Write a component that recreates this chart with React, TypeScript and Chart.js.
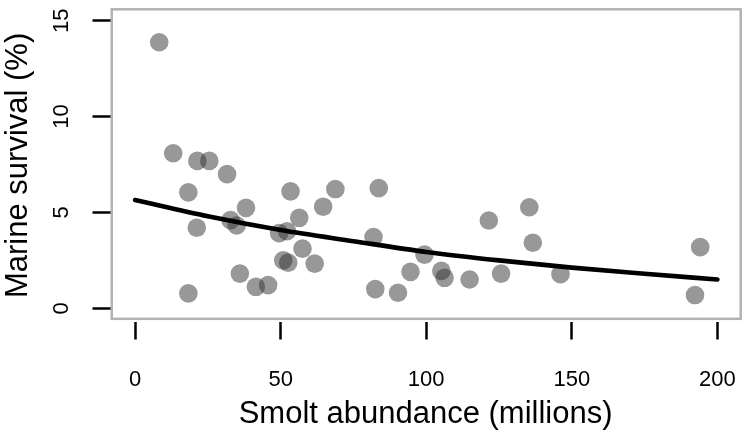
import React, { useEffect, useRef } from "react";
import { Chart, registerables } from "chart.js";

Chart.register(...registerables);

// Smolt abundance (millions) for each observed year
const abundance = [
  8.3, 13.1, 21.4, 25.5, 31.6, 18.3, 38.1, 53.4, 68.8, 64.6,
  83.7, 56.4, 32.8, 34.9, 21.2, 49.5, 52.2, 57.5, 50.9, 52.6,
  61.7, 36.0, 41.5, 45.7, 18.3, 81.9, 82.5, 121.5, 135.4, 136.6,
  99.4, 94.6, 105.2, 106.3, 114.9, 125.7, 146.1, 90.3, 194.1, 192.3,
];
// Marine survival (%) for each observed year
const survival = [
  13.88, 8.09, 7.69, 7.69, 7.0, 6.05, 5.24, 6.1, 6.22, 5.3,
  6.27, 4.72, 4.6, 4.32, 4.2, 3.92, 4.02, 3.11, 2.5, 2.38,
  2.33, 1.81, 1.12, 1.21, 0.78, 3.72, 1.0, 4.58, 5.27, 3.42,
  2.8, 1.9, 1.95, 1.59, 1.5, 1.81, 1.78, 0.81, 3.19, 0.69,
];
// Fitted curve
const fitX = [0, 25, 50, 75, 100, 125, 150, 175, 200];
const fitY = [5.65, 4.8, 4.08, 3.5, 2.94, 2.5, 2.12, 1.8, 1.5];

const xTicks = [0, 50, 100, 150, 200];
const yTicks = [0, 5, 10, 15];
const xTitle = "Smolt abundance (millions)";
const yTitle = "Marine survival (%)";
// plot region (user coordinates) as in the original box
const boxX = [-8, 208];
const boxY = [-0.55, 15.6];

const FONT = "'Liberation Sans', Arial, Helvetica, sans-serif";

const boxPlugin = {
  id: "rbox",
  beforeDatasetsDraw(chart: any) {
    const { ctx, scales } = chart;
    const x0 = scales.x.getPixelForValue(boxX[0]);
    const x1 = scales.x.getPixelForValue(boxX[1]);
    const y0 = scales.y.getPixelForValue(boxY[1]);
    const y1 = scales.y.getPixelForValue(boxY[0]);
    ctx.save();
    ctx.strokeStyle = "#b3b3b3";
    ctx.lineWidth = 2.5;
    ctx.strokeRect(x0, y0, x1 - x0, y1 - y0);
    ctx.restore();
  },
};

function zeroPad(s: any) {
  s.paddingTop = 0;
  s.paddingBottom = 0;
  s.paddingLeft = 0;
  s.paddingRight = 0;
}

export default function App() {
  const ref = useRef<HTMLCanvasElement>(null);
  useEffect(() => {
    if (!ref.current) return;
    const chart = new Chart(ref.current, {
      type: "scatter",
      data: {
        datasets: [
          {
            label: "fit",
            data: fitX.map((x, i) => ({ x, y: fitY[i] })),
            showLine: true,
            borderColor: "#000",
            borderWidth: 4.6,
            pointRadius: 0,
            cubicInterpolationMode: "monotone",
            borderCapStyle: "round",
          } as any,
          {
            label: "obs",
            data: abundance.map((x, i) => ({ x, y: survival[i] })),
            backgroundColor: "rgba(50,50,50,0.5)",
            borderWidth: 0,
            pointRadius: 9.3,
          },
        ],
      },
      options: {
        animation: false,
        responsive: true,
        maintainAspectRatio: false,
        layout: { padding: { top: 7.3, right: 8.3, left: 0, bottom: 0 } },
        plugins: { legend: { display: false }, tooltip: { enabled: false } },
        scales: {
          x: {
            type: "linear",
            min: -8.43,
            max: 208,
            afterBuildTicks: (s: any) => {
              s.ticks = xTicks.map((v) => ({ value: v }));
            },
            afterFit: (s: any) => {
              s.height = 117.5;
              zeroPad(s);
            },
            border: { display: false },
            grid: {
              drawOnChartArea: false,
              drawTicks: true,
              tickLength: 18,
              tickWidth: 2.5,
              tickColor: "#000",
            },
            ticks: {
              color: "#000",
              font: { family: FONT, size: 22 },
              padding: 27,
              maxRotation: 0,
              minRotation: 0,
            },
            title: {
              display: true,
              text: xTitle,
              color: "#000",
              font: { family: FONT, size: 31 },
              padding: { top: 0, bottom: 6 },
            },
          },
          y: {
            type: "linear",
            min: -0.69,
            max: 15.6,
            afterBuildTicks: (s: any) => {
              s.ticks = yTicks.map((v) => ({ value: v }));
            },
            afterFit: (s: any) => {
              s.width = 110.5;
              zeroPad(s);
            },
            border: { display: false },
            grid: {
              drawOnChartArea: false,
              drawTicks: true,
              tickLength: 18,
              tickWidth: 2.5,
              tickColor: "#000",
            },
            ticks: {
              color: "#000",
              font: { family: FONT, size: 22 },
              padding: 18,
              minRotation: 90,
              maxRotation: 90,
              crossAlign: "center",
            },
            title: {
              display: true,
              text: yTitle,
              color: "#000",
              font: { family: FONT, size: 31 },
              padding: { top: 0, bottom: 0 },
            },
          },
        },
      } as any,
      plugins: [boxPlugin],
    });
    return () => chart.destroy();
  }, []);
  return (
    <div style={{ position: "fixed", left: 0, top: 0, width: 750, height: 439, background: "#fff" }}>
      <canvas ref={ref} />
    </div>
  );
}
